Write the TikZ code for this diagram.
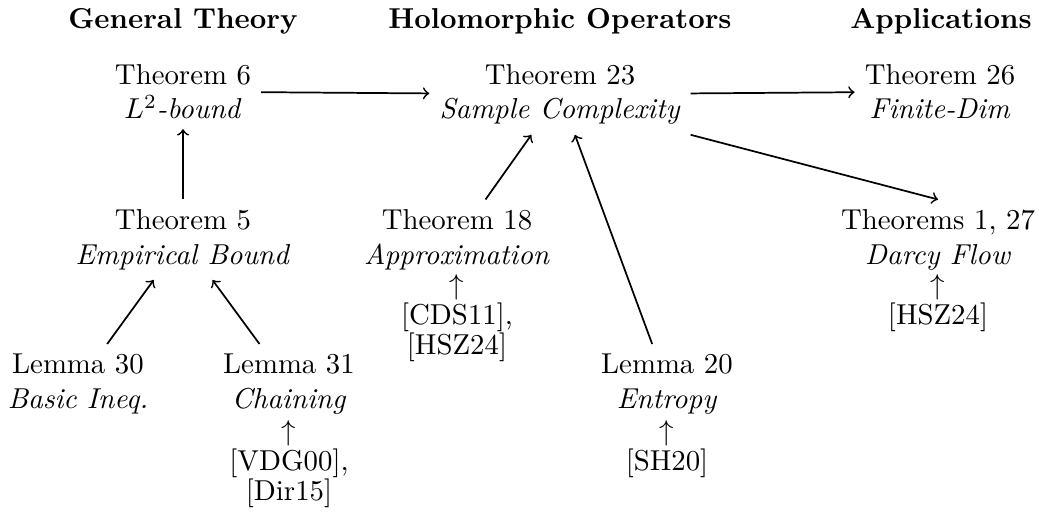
\documentclass[tikz,border=0pt]{standalone}
\begin{document}
\begin{tikzpicture}[x=0.3472pt,y=-0.3472pt,
  hdr/.style={font=\bfseries, anchor=base},
  thm/.style={align=center, anchor=north},
  refs/.style={align=center, anchor=north, font=\fontsize{10}{10.4}\selectfont},
  arr/.style={->, semithick}]
\useasboundingbox (0,0) rectangle (1039,521);
% headers
\node[hdr] (h1) at (183,29) {General Theory};
\node[hdr] (h2) at (560,29) {Holomorphic Operators};
\node[hdr] (h3) at (941,29) {Applications};
% top row
\node[thm] (t6)  at (183,54) {Theorem 6\\ \emph{$L^2$-bound}};
\node[thm] (t23) at (560,54) {Theorem 23\\ \emph{Sample Complexity}};
\node[thm] (t26) at (940,54) {Theorem 26\\ \emph{Finite-Dim}};
% middle row
\node[thm] (t5)   at (183,199.5) {Theorem 5\\ \emph{Empirical Bound}};
\node[thm] (t18)  at (457,199.5) {Theorem 18\\ \emph{Approximation}};
\node[thm] (t127) at (938,199.5) {Theorems 1, 27\\ \emph{Darcy Flow}};
% bottom row
\node[thm] (l30) at (78,344)  {Lemma 30\\ \emph{Basic Ineq.}};
\node[thm] (l31) at (289,344) {Lemma 31\\ \emph{Chaining}};
\node[thm] (l20) at (667,344) {Lemma 20\\ \emph{Entropy}};
% references
\node[refs] (r18)  at (457,264) {$\uparrow$\\ {[CDS11]},\\ {[HSZ24]}};
\node[refs] (r127) at (938,264) {$\uparrow$\\ {[HSZ24]}};
\node[refs] (r31)  at (289,410) {$\uparrow$\\ {[VDG00]},\\ {[Dir15]}};
\node[refs] (r20)  at (667,410) {$\uparrow$\\ {[SH20]}};
% connectors
\draw[arr] (t5) -- (t6);
\draw[arr] (t6) -- (t23);
\draw[arr] (t23) -- (t26);
\draw[arr] (t23.south east) -- (t127.north);
\draw[arr] (t18) -- (t23);
\draw[arr] (l30) -- (t5);
\draw[arr] (l31) -- (t5);
\draw[arr] (l20) -- (t23);
\end{tikzpicture}
\end{document}
